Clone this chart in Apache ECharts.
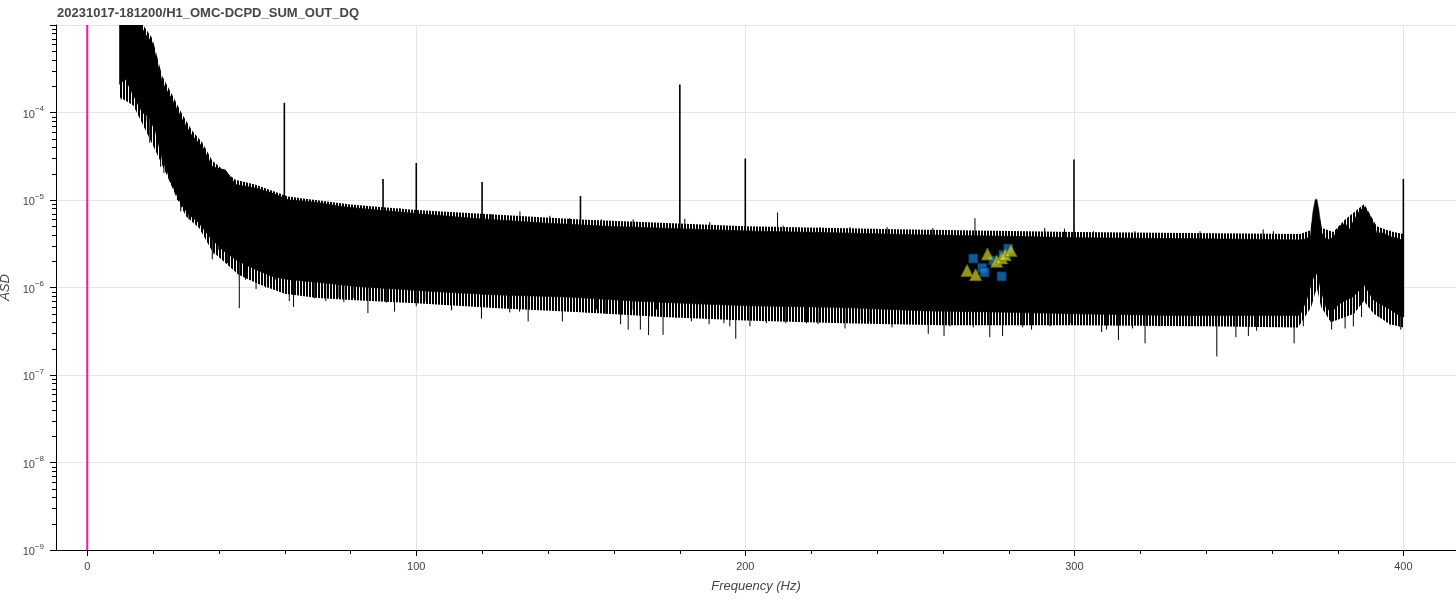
<!DOCTYPE html>
<html><head><meta charset="utf-8">
<script src="https://cdn.jsdelivr.net/npm/echarts@6/dist/echarts.min.js"></script>
<style>html,body{margin:0;padding:0;background:#fff;}#c{width:1456px;height:600px;}</style>
</head><body><div id="c"></div>
<script>
const TITLE = '20231017-181200/H1_OMC-DCPD_SUM_OUT_DQ';
const X_NAME = 'Frequency (Hz)';
const Y_NAME = 'ASD';
const xTickValues = [0, 100, 200, 300, 400];

// Upper envelope of the solid ASD band (Hz, value)
const upperF = [9.8, 12, 14, 16.2, 17.7, 19.8, 20.8, 22.8, 25.8, 28.9, 31.9, 35, 38, 42, 45.1, 51.2, 56.2, 61.3, 66.4, 71.4, 76.4, 81.6, 100, 117, 137.5, 158, 180, 203, 230, 252, 280, 302, 340, 368.6, 370.6, 371.8, 372.5, 373.2, 373.7, 374.3, 375.2, 376.7, 378.7, 380.5, 382.3, 383.6, 384.8, 386.3, 388.1, 389.4, 390.9, 391.9, 393.9, 396, 398, 400];
const upperV = [2.5e-3, 2.2e-3, 1.6e-3, 1.0e-3, 7.8e-4, 6.3e-4, 4.5e-4, 2.2e-4, 1.41e-4, 8.3e-5, 5.4e-5, 4.1e-5, 2.4e-5, 2.2e-5, 1.5e-5, 1.37e-5, 1.2e-5, 1.0e-5, 9.7e-6, 9.2e-6, 8.5e-6, 8.1e-6, 7.0e-6, 6.2e-6, 5.5e-6, 5.0e-6, 4.7e-6, 4.4e-6, 4.2e-6, 4.0e-6, 3.85e-6, 3.7e-6, 3.6e-6, 3.5e-6, 3.6e-6, 4.0e-6, 7.2e-6, 1.0e-5, 1.02e-5, 7.7e-6, 4.2e-6, 3.5e-6, 3.7e-6, 5.0e-6, 5.4e-6, 4.6e-6, 5.7e-6, 7.2e-6, 8.4e-6, 7.2e-6, 5.5e-6, 4.2e-6, 4.2e-6, 3.8e-6, 3.7e-6, 3.4e-6];

// Lower envelope of the solid ASD band (Hz, value)
const lowerF = [9.8, 11.6, 14.7, 16.7, 18.7, 20.8, 22.8, 24.8, 26.8, 28.9, 30.9, 33.9, 37, 41, 45.1, 51.2, 56.2, 61.3, 71.4, 81.6, 105, 125, 146, 166, 185, 200, 230, 255, 280, 300, 330, 368.6, 370.6, 372.5, 373.7, 374.3, 375.2, 376.7, 378.7, 380.5, 384.8, 388.1, 390.9, 396, 399.5, 400];
const lowerV = [2.1e-4, 2.4e-4, 1.4e-4, 1.0e-4, 9.0e-5, 5.9e-5, 2.9e-5, 1.87e-5, 1.22e-5, 8.5e-6, 6.8e-6, 5.5e-6, 3.85e-6, 2.7e-6, 2.08e-6, 1.6e-6, 1.34e-6, 1.23e-6, 1.13e-6, 1.03e-6, 9.0e-7, 8.2e-7, 7.8e-7, 7.0e-7, 6.5e-7, 6.2e-7, 5.9e-7, 5.4e-7, 5.2e-7, 5.0e-7, 4.8e-7, 4.8e-7, 7.2e-7, 1.25e-6, 1.45e-6, 1.2e-6, 8.6e-7, 5.6e-7, 5.5e-7, 6.5e-7, 7.9e-7, 1.07e-6, 7.2e-7, 5.6e-7, 4.6e-7, 4.6e-7];

// Outer limits of the dense noise fringe (Hz, value)
const fringeUpF = [9.8, 16.2, 19.8, 22.8, 25.8, 28.9, 31.9, 35, 38, 45, 51, 61, 80, 100, 150, 200, 250, 300, 368.6, 371.8, 373.5, 375.2, 378.7, 382.3, 388.1, 391.9, 396, 400];
const fringeUpV = [2.5e-3, 1.1e-3, 7.0e-4, 2.6e-4, 1.6e-4, 9.5e-5, 6.2e-5, 4.5e-5, 2.8e-5, 1.7e-5, 1.5e-5, 1.1e-5, 8.9e-6, 7.7e-6, 6.0e-6, 5.0e-6, 4.6e-6, 4.3e-6, 4.1e-6, 4.5e-6, 1.1e-5, 4.8e-6, 4.3e-6, 6.0e-6, 9.0e-6, 5.0e-6, 4.4e-6, 4.1e-6];
const fringeLowF = [9.8, 14, 18, 21, 24, 27, 30, 34, 38, 42, 46, 52, 60, 70, 80, 100, 125, 150, 175, 200, 230, 260, 300, 340, 368, 372, 373.7, 375, 378, 385, 388, 391, 396, 400];
const fringeLowV = [1.5e-4, 1.2e-4, 6.0e-5, 3.5e-5, 2.0e-5, 1.1e-5, 6.5e-6, 4.8e-6, 2.6e-6, 1.9e-6, 1.4e-6, 1.1e-6, 8.5e-7, 7.6e-7, 7.2e-7, 6.6e-7, 5.8e-7, 5.2e-7, 4.6e-7, 4.2e-7, 3.9e-7, 3.7e-7, 3.7e-7, 3.6e-7, 3.5e-7, 6.0e-7, 1.0e-6, 6.0e-7, 4.0e-7, 5.0e-7, 7.0e-7, 5.0e-7, 3.8e-7, 3.5e-7];

// Narrow spectral lines (Hz, peak value)
const lineF = [59.9, 89.9, 100.0, 120.0, 149.9, 180.1, 200.0, 299.9, 400.0];
const lineV = [1.29e-4, 1.74e-5, 2.65e-5, 1.61e-5, 1.11e-5, 2.09e-4, 2.98e-5, 2.9e-5, 1.74e-5];

// Small upward noise spikes above the band
const upSpikeF = [95, 107.6, 122.8, 131.5, 140.6, 146.6, 156.3, 165.9, 181.6, 189.2, 209.8, 211.5, 222.7, 231.8, 243.1, 257, 269.8, 278.4, 291, 297, 305.8, 318.4, 338.2, 357.4, 360.5, 396];
const upSpikeV = [8.1e-6, 7.2e-6, 6.9e-6, 7.4e-6, 6.6e-6, 6.2e-6, 6.0e-6, 6.0e-6, 6.1e-6, 5.6e-6, 7.2e-6, 5.1e-6, 4.9e-6, 4.9e-6, 4.9e-6, 4.8e-6, 6.2e-6, 4.4e-6, 4.8e-6, 4.7e-6, 4.4e-6, 4.4e-6, 4.4e-6, 4.6e-6, 4.4e-6, 4.5e-6];

// Downward noise spikes below the band
const downSpikeF = [10.3, 11.1, 12.2, 13.7, 14.7, 16.2, 18.2, 19.0, 22.3, 23.3, 25.3, 27.4, 28.4, 30.9, 32.4, 35.0, 36.5, 38.0, 38.5, 40.0, 42.6, 46.2, 48.1, 51.3, 54.2, 57.3, 61.4, 62.7, 64.9, 69.0, 71.4, 72.5, 76.5, 78.0, 80.8, 85.3, 88.9, 90.9, 93.4, 96.0, 100.0, 103.0, 107.0, 110.7, 115.2, 119.8, 122.3, 128.4, 131.4, 134.0, 139.6, 144.4, 146.1, 151.7, 154.8, 157.6, 159.8, 162.1, 164.4, 165.9, 168.1, 170.6, 173.0, 175.0, 179.1, 183.6, 189.0, 193.5, 195.3, 197.1, 201.4, 206.4, 212.3, 218.6, 222.1, 230.3, 234.8, 237.9, 244.6, 250.0, 255.6, 260.4, 262.2, 269.3, 274.3, 278.2, 280.9, 284.3, 287.0, 292.6, 298.7, 303.7, 308.3, 309.8, 313.4, 317.7, 321.5, 326.0, 331.1, 335.1, 343.3, 349.1, 352.9, 355.4, 360.5, 366.8, 369.6, 378.2, 382.3, 384.8, 387.3, 392.9, 394.9, 396.0, 399.2];
const downSpikeV = [1.41e-4, 2.0e-4, 1.68e-4, 1.6e-4, 1.1e-4, 1.41e-4, 8.0e-5, 4.5e-5, 2.4e-5, 2.04e-5, 1.57e-5, 1.0e-5, 7.4e-6, 6.0e-6, 6.6e-6, 4.95e-6, 4.2e-6, 2.1e-6, 2.4e-6, 2.7e-6, 1.9e-6, 5.8e-7, 1.23e-6, 9.6e-7, 1.0e-6, 1.23e-6, 7.0e-7, 6.0e-7, 8.6e-7, 7.5e-7, 7.9e-7, 7.0e-7, 7.6e-7, 6.8e-7, 7.6e-7, 5.1e-7, 7.0e-7, 6.7e-7, 5.3e-7, 7.0e-7, 6.1e-7, 7.0e-7, 7.0e-7, 5.5e-7, 6.7e-7, 4.4e-7, 6.3e-7, 5.2e-7, 5.3e-7, 4.1e-7, 5.6e-7, 4.1e-7, 5.3e-7, 5.1e-7, 5.6e-7, 5.0e-7, 6.1e-7, 3.8e-7, 3.3e-7, 5.6e-7, 3.3e-7, 2.86e-7, 5.6e-7, 2.88e-7, 4.5e-7, 4.1e-7, 3.8e-7, 3.9e-7, 3.6e-7, 2.6e-7, 3.6e-7, 3.9e-7, 3.9e-7, 3.9e-7, 3.8e-7, 3.4e-7, 4.3e-7, 4.1e-7, 3.5e-7, 3.8e-7, 2.96e-7, 2.8e-7, 3.6e-7, 3.5e-7, 2.7e-7, 2.8e-7, 3.8e-7, 3.5e-7, 3.3e-7, 3.6e-7, 3.9e-7, 3.8e-7, 3.1e-7, 3.3e-7, 2.5e-7, 3.4e-7, 2.3e-7, 3.6e-7, 3.7e-7, 3.6e-7, 1.63e-7, 2.7e-7, 2.8e-7, 3.2e-7, 3.8e-7, 2.3e-7, 3.6e-7, 3.3e-7, 3.4e-7, 3.6e-7, 4.6e-7, 4.6e-7, 4.0e-7, 3.7e-7, 3.3e-7];

// Markers
const squareF = [269.3, 272.0, 272.7, 275.4, 277.9, 278.4, 279.9];
const squareV = [2.14e-6, 1.67e-6, 1.49e-6, 2.03e-6, 1.34e-6, 2.37e-6, 2.78e-6];
const triangleF = [267.4, 270.0, 273.6, 276.4, 277.9, 279.0, 280.7];
const triangleV = [1.56e-6, 1.40e-6, 2.42e-6, 1.99e-6, 2.18e-6, 2.37e-6, 2.64e-6];

const X_MIN = -9.5, X_MAX = 416, Y_MIN = 1e-9, Y_MAX = 1e-3;
const FONT = "'Liberation Sans', Arial, Helvetica, sans-serif";

function logInterp(fs, vs, f) {
  if (f <= fs[0]) return vs[0];
  for (let i = 1; i < fs.length; i++) {
    if (f <= fs[i]) {
      const t = (f - fs[i - 1]) / (fs[i] - fs[i - 1]);
      return Math.pow(10, Math.log10(vs[i - 1]) + t * (Math.log10(vs[i]) - Math.log10(vs[i - 1])));
    }
  }
  return vs[vs.length - 1];
}

const yMinorTicks = [];
for (let e = -9; e <= -4; e++) for (let k = 2; k <= 9; k++) yMinorTicks.push(k * Math.pow(10, e));
const xMinorTicks = [];
for (let v = 20; v < X_MAX; v += 20) if (v % 100 !== 0) xMinorTicks.push(v);

const spikeRows = [];
lineF.forEach((f, i) => spikeRows.push([f, lineV[i], logInterp(lowerF, lowerV, f), 1.6]));
upSpikeF.forEach((f, i) => spikeRows.push([f, upSpikeV[i], logInterp(lowerF, lowerV, f), 1]));
downSpikeF.forEach((f, i) => spikeRows.push([f, downSpikeV[i], logInterp(upperF, upperV, f), 1]));

// vertical hatch pattern to mimic the dense comb of noise at the band edges
const hatch = document.createElement('canvas');
hatch.width = 3; hatch.height = 4;
(function () {
  const g = hatch.getContext('2d');
  g.fillStyle = '#000';
  g.fillRect(0, 0, 2, 4);
})();

function polygonItem(api, fA, vA, fB, vB, fill, stroke) {
  const pts = [];
  for (let i = 0; i < fA.length; i++) pts.push(api.coord([fA[i], vA[i]]));
  for (let i = fB.length - 1; i >= 0; i--) pts.push(api.coord([fB[i], vB[i]]));
  return { type: 'polygon', shape: { points: pts }, style: { fill: fill, stroke: stroke, lineWidth: stroke ? 0.6 : 0 } };
}

const chart = echarts.init(document.getElementById('c'), null, { renderer: 'canvas' });
chart.setOption({
  animation: false,
  backgroundColor: '#fff',
  title: {
    text: TITLE, left: 57, top: 7, padding: 0,
    textStyle: { fontSize: 13, fontWeight: 'bold', color: '#444', fontFamily: FONT }
  },
  grid: { left: 56, right: 0, top: 25, bottom: 50, containLabel: false, outerBoundsMode: 'none' },
  xAxis: {
    type: 'value', min: X_MIN, max: X_MAX,
    name: X_NAME, nameLocation: 'middle', nameGap: 30,
    nameTextStyle: { fontSize: 13, fontStyle: 'italic', color: '#444', fontFamily: FONT },
    axisLine: { show: true, onZero: false, lineStyle: { color: '#000', width: 1 } },
    axisTick: { show: true, customValues: xTickValues, length: 6, lineStyle: { color: '#000' } },
    axisLabel: { customValues: xTickValues, margin: 11, fontSize: 11, color: '#444', fontFamily: FONT },
    splitLine: { show: false },
    minorTick: { show: false }
  },
  yAxis: {
    type: 'log', logBase: 10, min: Y_MIN, max: Y_MAX,
    name: Y_NAME, nameLocation: 'middle', nameGap: 26,
    nameTextStyle: { fontSize: 13, fontStyle: 'italic', color: '#444', fontFamily: FONT },
    axisLine: { show: true, onZero: false, lineStyle: { color: '#000', width: 1 } },
    axisTick: { show: true, length: 6, lineStyle: { color: '#000' } },
    axisLabel: {
      margin: 12, showMaxLabel: false, fontFamily: FONT,
      formatter: function (v) {
        const e = Math.round(Math.log10(v));
        if (e >= -3) return '';
        return '{b|10}{s|\u2212' + (-e) + '}';
      },
      rich: {
        b: { fontSize: 11, color: '#444', lineHeight: 15, verticalAlign: 'bottom', fontFamily: FONT },
        s: { fontSize: 8, color: '#444', lineHeight: 15, verticalAlign: 'top', fontFamily: FONT }
      }
    },
    splitLine: { show: true, lineStyle: { color: '#e5e5e5', width: 1 } }
  },
  series: [
    {
      type: 'custom', name: 'vgrid', silent: true, z: 1, clip: true,
      data: xTickValues.map(v => [v, Y_MIN]),
      renderItem: function (params, api) {
        const a = api.coord([api.value(0), Y_MIN]);
        const b = api.coord([api.value(0), Y_MAX]);
        const x = Math.round(a[0]) + 0.5;
        return { type: 'line', shape: { x1: x, y1: a[1], x2: x, y2: b[1] }, style: { stroke: '#e5e5e5', lineWidth: 1 } };
      }
    },
    {
      type: 'custom', name: 'fringe', silent: true, z: 2, clip: true,
      data: [[fringeUpF[0], fringeUpV[0]]],
      renderItem: function (params, api) {
        return polygonItem(api, fringeUpF, fringeUpV, fringeLowF, fringeLowV, { image: hatch, repeat: 'repeat' }, null);
      }
    },
    {
      type: 'custom', name: 'band', silent: true, z: 3, clip: true,
      data: [[upperF[0], upperV[0]]],
      renderItem: function (params, api) {
        return polygonItem(api, upperF, upperV, lowerF, lowerV, '#000', '#000');
      }
    },
    {
      type: 'custom', name: 'spikes', silent: true, z: 4, clip: true,
      data: spikeRows,
      renderItem: function (params, api) {
        const a = api.coord([api.value(0), api.value(1)]);
        const b = api.coord([api.value(0), api.value(2)]);
        return { type: 'line', shape: { x1: a[0], y1: a[1], x2: b[0], y2: b[1] }, style: { stroke: '#000', lineWidth: api.value(3) } };
      }
    },
    {
      type: 'line', name: 'zero', silent: true, z: 5, symbol: 'none',
      data: [[0, Y_MIN], [0, Y_MAX]],
      lineStyle: { color: '#ff1493', width: 2 }
    },
    {
      type: 'scatter', name: 'squares', z: 6, symbol: 'rect', symbolSize: 9,
      data: squareF.map((f, i) => [f, squareV[i]]),
      itemStyle: { color: 'rgba(24,132,222,0.85)', borderColor: 'rgba(8,50,95,0.9)', borderWidth: 1 }
    },
    {
      type: 'scatter', name: 'triangles', z: 7, symbol: 'triangle', symbolSize: 12,
      data: triangleF.map((f, i) => [f, triangleV[i]]),
      itemStyle: { color: 'rgba(218,218,36,0.85)', borderColor: 'rgba(110,110,10,0.9)', borderWidth: 1 }
    },
    {
      type: 'custom', name: 'yaxisline', silent: true, z: 8, clip: false,
      data: [[X_MIN, Y_MIN]],
      renderItem: function (params, api) {
        const a = api.coord([X_MIN, Y_MIN]);
        const b = api.coord([X_MIN, Y_MAX]);
        const x = Math.round(a[0]) + 0.5;
        return { type: 'line', shape: { x1: x, y1: a[1], x2: x, y2: b[1] }, style: { stroke: '#000', lineWidth: 1 } };
      }
    },
    {
      type: 'custom', name: 'yminor', silent: true, z: 8, clip: false,
      data: yMinorTicks.map(v => [X_MIN, v]),
      renderItem: function (params, api) {
        const p = api.coord([X_MIN, api.value(1)]);
        const y = Math.round(p[1]) + 0.5;
        const x = Math.round(p[0]);
        return { type: 'line', shape: { x1: x - 4, y1: y, x2: x, y2: y }, style: { stroke: '#000', lineWidth: 1 } };
      }
    },
    {
      type: 'custom', name: 'xminor', silent: true, z: 8, clip: false,
      data: xMinorTicks.map(v => [v, Y_MIN]),
      renderItem: function (params, api) {
        const p = api.coord([api.value(0), Y_MIN]);
        const x = Math.round(p[0]) + 0.5;
        const y = Math.round(p[1]);
        return { type: 'line', shape: { x1: x, y1: y, x2: x, y2: y + 4 }, style: { stroke: '#000', lineWidth: 1 } };
      }
    }
  ]
});
</script>
</body></html>
